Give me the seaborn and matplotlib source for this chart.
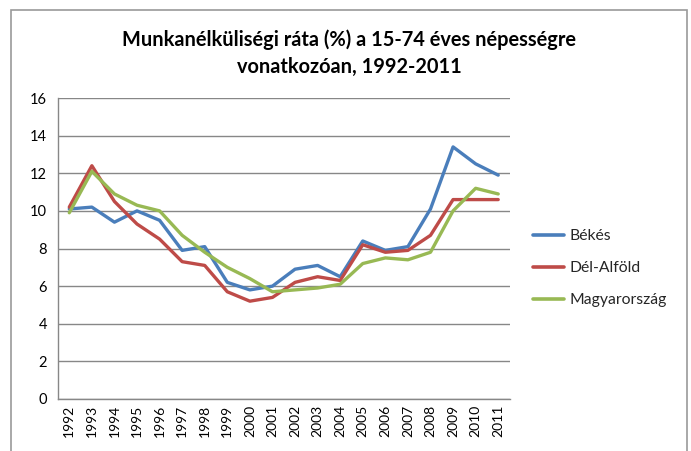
import matplotlib
matplotlib.use("Agg")
import matplotlib.pyplot as plt
import seaborn as sns
import pandas as pd
from matplotlib.patches import Rectangle

years = [str(y) for y in range(1992, 2012)]
bekes = [10.1, 10.2, 9.4, 10.0, 9.5, 7.9, 8.1, 6.2, 5.8, 6.0, 6.9, 7.1, 6.5, 8.4, 7.9, 8.1, 10.1, 13.4, 12.5, 11.9]
del_alfold = [10.2, 12.4, 10.5, 9.3, 8.5, 7.3, 7.1, 5.7, 5.2, 5.4, 6.2, 6.5, 6.3, 8.2, 7.8, 7.9, 8.7, 10.6, 10.6, 10.6]
magyarorszag = [9.9, 12.1, 10.9, 10.3, 10.0, 8.7, 7.8, 7.0, 6.4, 5.7, 5.8, 5.9, 6.1, 7.2, 7.5, 7.4, 7.8, 10.0, 11.2, 10.9]
series_names = ["Békés", "Dél-Alföld", "Magyarország"]
colors = ["#4A7EBB", "#BE4B48", "#98B954"]
title = "Munkanélküliségi ráta (%) a 15-74 éves népességre\nvonatkozóan, 1992-2011"

df = pd.DataFrame({"Év": years * 3,
                   "Érték": bekes + del_alfold + magyarorszag,
                   "Sorozat": [series_names[0]] * 20 + [series_names[1]] * 20 + [series_names[2]] * 20})

sns.set_theme(style="white")
plt.rcParams['font.family'] = ['Lato', 'DejaVu Sans']

fig = plt.figure(figsize=(6.91, 4.51), dpi=100)
ax = fig.add_axes([58/691, 1 - 399/451, (509.5 - 58)/691, (399 - 98)/451])

sns.lineplot(data=df, x="Év", y="Érték", hue="Sorozat", palette=colors,
             linewidth=2.4, ax=ax, sort=False)

ax.set_xlim(-0.5, 19.5)
ax.set_ylim(0, 16)
ax.set_yticks(range(0, 17, 2))
ax.yaxis.grid(True, color="#878787", linewidth=1.0)
ax.set_axisbelow(True)
ax.set_xlabel("")
ax.set_ylabel("")
for s in ["top", "right"]:
    ax.spines[s].set_visible(False)
for s in ["left", "bottom"]:
    ax.spines[s].set_color("#878787")
    ax.spines[s].set_linewidth(1.0)

ax.set_xticks(range(20))
ax.set_xticklabels(years, rotation=90, fontsize=10, color="black")
ax.tick_params(axis="x", length=0, pad=4)
ax.set_xticks([i - 0.5 for i in range(21)], minor=True)
ax.tick_params(axis="x", which="minor", length=5, color="#878787", width=1, direction="out")
ax.tick_params(axis="y", length=0, labelsize=10.5, labelcolor="black", pad=8)

fig.text(349/691, 1 - 53/451, title, ha="center", va="center", fontsize=14.4,
         fontweight="bold", linespacing=1.45, color="black")

leg = ax.legend(loc="center left", bbox_to_anchor=(1.038, 0.435), frameon=False,
                fontsize=11.3, handlelength=2.0, labelspacing=1.15, handletextpad=0.3,
                borderaxespad=0)
for line in leg.get_lines():
    line.set_linewidth(2.6)

fig.patches.append(Rectangle((11/691, -0.05), (687 - 11)/691, 1.05 - 10/451,
                             transform=fig.transFigure, fill=False,
                             edgecolor="#9A9A9A", linewidth=1.2))

fig.savefig("out.png", dpi=100)
